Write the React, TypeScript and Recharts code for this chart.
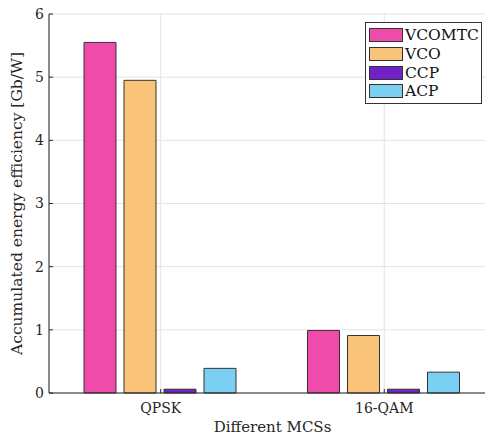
import {
  Bar,
  BarChart,
  CartesianGrid,
  XAxis,
  YAxis,
} from "recharts";

const categories = ["QPSK", "16-QAM"];
const vcomtc = [5.55, 0.99];
const vco = [4.95, 0.91];
const ccp = [0.06, 0.06];
const acp = [0.39, 0.33];
const yTicks = [0, 1, 2, 3, 4, 5, 6];

const series = [
  { key: "VCOMTC", color: "#ef4bab" },
  { key: "VCO", color: "#f9c479" },
  { key: "CCP", color: "#7221c9" },
  { key: "ACP", color: "#7bd0f1" },
];

const data = categories.map((name, i) => ({
  name,
  VCOMTC: vcomtc[i],
  VCO: vco[i],
  CCP: ccp[i],
  ACP: acp[i],
}));

const FONT = "DejaVu Serif";
const AXIS = "#262626";

// legend drawn as an overlay so it does not push the plot area down
const LegendBox = () => (
  <div
    style={{
      position: "absolute",
      left: 365,
      top: 22,
      width: 112,
      border: "1px solid #333",
      background: "#fff",
      padding: "3px 0 2px 3px",
      fontFamily: FONT,
      fontSize: 15.5,
      color: "#111",
    }}
  >
    {series.map((s) => (
      <div
        key={s.key}
        style={{ display: "flex", alignItems: "center", height: 18.7 }}
      >
        <div
          style={{
            width: 32,
            height: 12,
            background: s.color,
            border: "1px solid #333",
            marginRight: 2,
          }}
        />
        <span>{s.key}</span>
      </div>
    ))}
  </div>
);

const App = () => {
  return (
    <div
      style={{
        position: "absolute",
        left: 0,
        top: 0,
        width: 485,
        height: 435,
        overflow: "hidden",
        background: "#fff",
      }}
    >
      <BarChart
        width={497}
        height={435}
        data={data}
        margin={{ top: 14, right: 1, left: 0, bottom: 0 }}
        barCategoryGap={35}
        barGap={8}
        style={{ fontFamily: FONT }}
      >
        <CartesianGrid stroke="#e3e3e3" strokeWidth={1} />
        <XAxis
          dataKey="name"
          height={42}
          stroke={AXIS}
          tickSize={-4}
          tickMargin={14}
          tick={{ fill: "#262626", fontSize: 14, fontFamily: FONT }}
          label={{
            value: "Different MCSs",
            position: "insideBottom",
            offset: 3,
            fill: "#262626",
            fontSize: 15,
            fontFamily: FONT,
          }}
        />
        <XAxis
          xAxisId="top"
          dataKey="name"
          orientation="top"
          height={0}
          stroke={AXIS}
          tickSize={-4}
          tickFormatter={() => ""}
        />
        <YAxis
          width={49}
          domain={[0, 6]}
          ticks={yTicks}
          stroke={AXIS}
          tickSize={-4}
          tickMargin={9}
          tick={{ fill: "#262626", fontSize: 14, fontFamily: FONT }}
          label={{
            value: "Accumulated energy efficiency [Gb/W]",
            angle: -90,
            position: "insideLeft",
            offset: 0,
            dx: 16,
            style: { textAnchor: "middle" },
            fill: "#262626",
            fontSize: 15.5,
            fontFamily: FONT,
          }}
        />
        {series.map((s) => (
          <Bar
            key={s.key}
            dataKey={s.key}
            fill={s.color}
            stroke="#333"
            strokeWidth={1}
            isAnimationActive={false}
          />
        ))}
      </BarChart>
      <LegendBox />
    </div>
  );
};

export default App;
